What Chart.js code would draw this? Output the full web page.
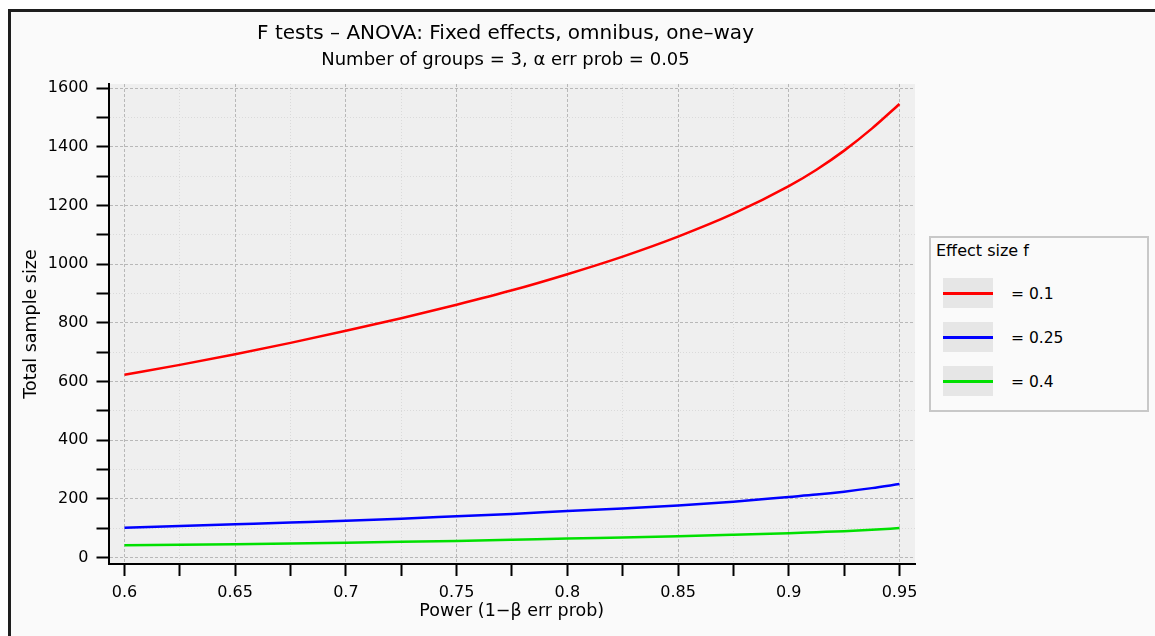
<!DOCTYPE html>
<html>
<head>
<meta charset="utf-8">
<script src="https://cdn.jsdelivr.net/npm/chart.js@4.4.1/dist/chart.umd.min.js"></script>
<style>
  html, body { margin: 0; padding: 0; background: #ffffff; }
  #wrap { position: relative; width: 1155px; height: 636px; overflow: hidden; background: #ffffff; font-family: "DejaVu Sans", sans-serif; }
  #frame { position: absolute; left: 8px; top: 9px; width: 1200px; height: 700px; background: #fafafa; border-left: 3px solid #1e1e1e; border-top: 3px solid #1e1e1e; }
  #c { position: absolute; left: 0; top: 0; }
  .title { position: absolute; left: 0; width: 1011px; text-align: center; color: #000; white-space: nowrap; line-height: 1.15; }
  #t1 { top: 21px; font-size: 20px; }
  #t2 { top: 49px; font-size: 18px; }
  #legend { position: absolute; left: 929px; top: 236px; width: 216px; height: 172px; border: 2px solid #c8c8c8; background: #fafafa; }
  #legend .lt { position: absolute; left: 5px; top: 3px; font-size: 16px; color: #000; }
  .item { position: absolute; left: 12px; width: 200px; height: 30px; }
  .sw { position: absolute; left: 0; top: 0; width: 50px; height: 30px; background: #e6e6e6; }
  .sw i { position: absolute; left: 0; top: 14px; width: 50px; height: 3px; display: block; }
  .lab { position: absolute; left: 68px; top: 7px; font-size: 15.5px; color: #000; }
</style>
</head>
<body>
<div id="wrap">
  <div id="frame"></div>
  <canvas id="c" width="1155" height="636"></canvas>
  <div class="title" id="t1">F tests – ANOVA: Fixed effects, omnibus, one–way</div>
  <div class="title" id="t2">Number of groups = 3, α err prob = 0.05</div>
  <div id="legend"><div class="lt">Effect size f</div></div>
</div>
<script>
// ---- data ----
const power = [0.6, 0.625, 0.65, 0.675, 0.7, 0.725, 0.75, 0.775, 0.8, 0.825, 0.85, 0.875, 0.9, 0.9125, 0.925, 0.9375, 0.95];
const nF010 = [623, 657, 693, 732, 773, 816, 862, 911, 966, 1026, 1094, 1172, 1266, 1322, 1387, 1462, 1546];
const nF025 = [102, 108, 114, 120, 126, 133, 141, 149, 159, 168, 178, 191, 207, 215, 225, 237, 251];
const nF040 = [42, 44, 46, 48, 51, 54, 57, 61, 65.5, 69, 73, 78, 83.5, 87, 90.5, 95, 101];
const seriesLabels = ['= 0.1', '= 0.25', '= 0.4'];
const seriesColors = ['#ff0000', '#0000ff', '#00e000'];
const xTicks = [0.6, 0.625, 0.65, 0.675, 0.7, 0.725, 0.75, 0.775, 0.8, 0.825, 0.85, 0.875, 0.9, 0.925, 0.95];
const xMajor = [0.6, 0.65, 0.7, 0.75, 0.8, 0.85, 0.9, 0.95];
const yTicks = [0, 100, 200, 300, 400, 500, 600, 700, 800, 900, 1000, 1100, 1200, 1300, 1400, 1500, 1600];
const yMajor = [0, 200, 400, 600, 800, 1000, 1200, 1400, 1600];
const xTitle = 'Power (1−β err prob)';
const yTitle = 'Total sample size';

const seriesValues = [nF010, nF025, nF040];

// legend (HTML)
const legend = document.getElementById('legend');
seriesLabels.forEach((lab, i) => {
  const it = document.createElement('div');
  it.className = 'item';
  it.style.top = (40 + i * 44) + 'px';
  it.innerHTML = '<div class="sw"><i style="background:' + seriesColors[i] + '"></i></div><div class="lab">' + lab + '</div>';
  legend.appendChild(it);
});

const isMajorX = v => xMajor.some(m => Math.abs(m - v) < 1e-6);
const isMajorY = v => yMajor.includes(Math.round(v));
const FONT = 'DejaVu Sans';

const plotBg = {
  id: 'plotBg',
  beforeDraw(chart) {
    const {ctx, chartArea: a} = chart;
    ctx.save();
    ctx.fillStyle = '#efefef';
    ctx.fillRect(a.left, a.top, a.right - a.left, a.bottom - a.top);
    ctx.restore();
  }
};

new Chart(document.getElementById('c'), {
  type: 'line',
  data: {
    datasets: seriesValues.map((vals, i) => ({
      label: seriesLabels[i],
      data: power.map((p, j) => ({x: p, y: vals[j]})),
      borderColor: seriesColors[i],
      backgroundColor: seriesColors[i],
      borderWidth: 2.5,
      pointRadius: 0,
      fill: false,
      cubicInterpolationMode: 'monotone'
    }))
  },
  options: {
    responsive: false,
    animation: false,
    events: [],
    layout: { padding: { left: 10, top: 84, right: 240, bottom: 0 } },
    plugins: { legend: { display: false }, title: { display: false }, tooltip: { enabled: false } },
    scales: {
      x: {
        type: 'linear',
        min: 0.5928,
        max: 0.957,
        afterBuildTicks: s => { s.ticks = xTicks.map(v => ({value: v})); },
        afterFit: s => { s.height = 72; },
        ticks: {
          autoSkip: false, maxRotation: 0, minRotation: 0,
          color: '#000', padding: 7,
          font: { family: FONT, size: 16 },
          callback: v => isMajorX(v) ? String(+v.toFixed(3)) : ''
        },
        grid: {
          color: c => c.tick && isMajorX(c.tick.value) ? '#b8b8b8' : '#dadada',
          lineWidth: 1,
          drawTicks: true,
          tickLength: 12,
          tickColor: '#000',
          tickWidth: 2
        },
        border: {
          display: true, color: '#000', width: 2,
          dash: c => (c.tick && isMajorX(c.tick.value)) ? [3, 2] : [1, 2]
        },
        title: { display: true, text: xTitle, color: '#000', font: { family: FONT, size: 17.5 }, padding: { top: 0, bottom: 14 } }
      },
      y: {
        type: 'linear',
        min: -21.5,
        max: 1614,
        afterBuildTicks: s => { s.ticks = yTicks.map(v => ({value: v})); },
        afterFit: s => { s.width = 98.5; },
        ticks: {
          autoSkip: false, color: '#000', padding: 8,
          font: { family: FONT, size: 16 },
          callback: v => isMajorY(v) ? String(v) : ''
        },
        grid: {
          color: c => c.tick && isMajorY(c.tick.value) ? '#b8b8b8' : '#dadada',
          lineWidth: 1,
          drawTicks: true,
          tickLength: 12,
          tickColor: '#000',
          tickWidth: 2
        },
        border: {
          display: true, color: '#000', width: 2,
          dash: c => (c.tick && isMajorY(c.tick.value)) ? [3, 2] : [1, 2]
        },
        title: { display: true, text: yTitle, color: '#000', font: { family: FONT, size: 17.5 }, padding: { top: 11, bottom: 0 } }
      }
    }
  },
  plugins: [plotBg]
});
</script>
</body>
</html>
